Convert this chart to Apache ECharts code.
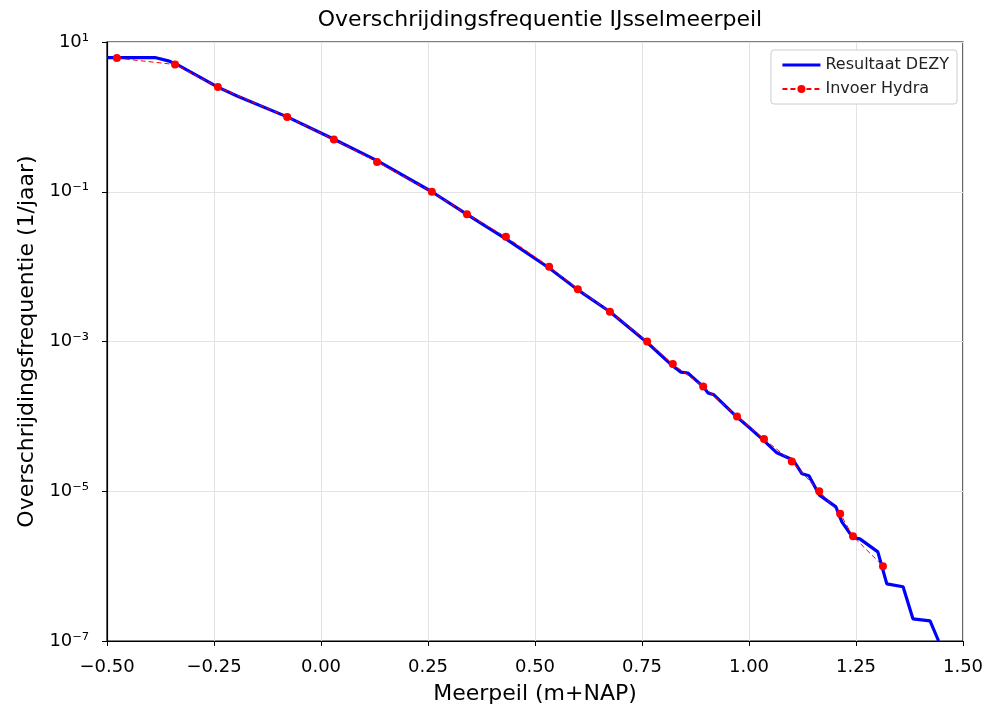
<!DOCTYPE html>
<html>
<head>
<meta charset="utf-8">
<script src="https://cdn.jsdelivr.net/npm/echarts@6/dist/echarts.min.js"></script>
<style>
  html, body { margin: 0; padding: 0; background: #fff; }
  #chart { width: 987px; height: 713px; }
</style>
</head>
<body>
<div id="chart"></div>
<script>
// Resultaat DEZY (doorgetrokken lijn)
var dezyX = [-0.5, -0.388, -0.357, -0.339, -0.241, -0.196, -0.079, 0.028, 0.131, 0.259, 0.341,
             0.432, 0.533, 0.600, 0.675, 0.762, 0.822, 0.841, 0.857, 0.893, 0.904, 0.918, 0.972,
             1.002, 1.033, 1.065, 1.103, 1.124, 1.140, 1.164, 1.203, 1.217, 1.243, 1.259, 1.301,
             1.322, 1.360, 1.383, 1.423, 1.443];
var dezyY = [6.2, 6.2, 5.6, 5.1, 2.5, 1.9, 1.0, 0.51, 0.26, 0.1, 0.05,
             0.0235, 0.0096, 0.0049, 0.0025, 0.00097, 0.00047, 0.00039, 0.00038, 0.00025, 0.000206, 0.000194, 9.8e-5,
             7.0e-5, 4.85e-5, 3.26e-5, 2.62e-5, 1.71e-5, 1.61e-5, 8.95e-6, 6.19e-6, 3.9e-6, 2.39e-6, 2.31e-6, 1.55e-6,
             5.8e-7, 5.3e-7, 1.98e-7, 1.86e-7, 1.0e-7];

// Invoer Hydra (punten)
var hydraX = [-0.477, -0.341, -0.241, -0.079, 0.030, 0.131, 0.259, 0.341, 0.432, 0.533, 0.600,
              0.675, 0.762, 0.822, 0.893, 0.972, 1.035, 1.100, 1.164, 1.213, 1.243, 1.313];
var hydraY = [6.1, 5.0, 2.5, 1.0, 0.5, 0.25, 0.1, 0.05, 0.025, 0.01, 0.005,
              0.0025, 0.001, 0.0005, 0.00025, 0.0001, 5e-5, 2.5e-5, 1e-5, 5e-6, 2.5e-6, 1e-6];

var supLabels = {1: '10¹', '-1': '10⁻¹', '-3': '10⁻³', '-5': '10⁻⁵', '-7': '10⁻⁷'};

function pairs(xs, ys) {
    var out = [];
    for (var i = 0; i < xs.length; i++) out.push([xs[i], ys[i]]);
    return out;
}

var myChart = echarts.init(document.getElementById('chart'));
myChart.setOption({
    animation: false,
    textStyle: { fontFamily: 'DejaVu Sans' },
    title: {
        text: 'Overschrijdingsfrequentie IJsselmeerpeil',
        left: 535, top: 4, textAlign: 'center',
        textStyle: { fontSize: 22, fontWeight: 'normal', color: '#000', fontFamily: 'DejaVu Sans' }
    },
    grid: {
        left: 107, right: 24, top: 42, bottom: 72,
        show: true, borderColor: '#000', borderWidth: 1.2
    },
    legend: {
        orient: 'vertical',
        right: 30, top: 50,
        padding: [7, 8, 7, 10],
        itemGap: 8,
        itemWidth: 38, itemHeight: 10,
        backgroundColor: '#fff',
        borderColor: '#ccc', borderWidth: 1, borderRadius: 3,
        textStyle: { fontSize: 16, color: '#222', fontFamily: 'DejaVu Sans' },
        data: [
            { name: 'Resultaat DEZY', itemStyle: { opacity: 0 }, lineStyle: { width: 3 } },
            'Invoer Hydra'
        ]
    },
    xAxis: {
        type: 'value',
        min: -0.5, max: 1.5, interval: 0.25,
        name: 'Meerpeil (m+NAP)',
        nameLocation: 'middle', nameGap: 42,
        nameTextStyle: { fontSize: 22, color: '#000' },
        axisLine: { lineStyle: { color: '#000', width: 1.2 } },
        axisTick: { inside: false, length: 5, lineStyle: { color: '#000' } },
        axisLabel: {
            fontSize: 18, color: '#000', margin: 17,
            formatter: function (v) { return v.toFixed(2).replace('-', '−'); }
        },
        splitLine: { show: true, lineStyle: { color: '#e3e3e3', width: 1 } }
    },
    yAxis: {
        type: 'log',
        logBase: 10,
        min: 1e-7, max: 10, interval: 2,
        name: 'Overschrijdingsfrequentie (1/jaar)',
        nameLocation: 'middle', nameGap: 69,
        nameTextStyle: { fontSize: 22, color: '#000' },
        axisLine: { onZero: false, lineStyle: { color: '#000', width: 1.2 } },
        axisTick: { inside: false, length: 5, lineStyle: { color: '#000' } },
        axisLabel: {
            fontSize: 18, color: '#000', margin: 18,
            formatter: function (v) {
                var e = Math.round(Math.log10(v));
                return supLabels[e] || ('10^' + e);
            }
        },
        splitLine: { show: true, lineStyle: { color: '#e3e3e3', width: 1 } }
    },
    series: [
        {
            name: 'Resultaat DEZY',
            type: 'line',
            symbol: 'none',
            lineStyle: { color: '#0000ff', width: 3.2 },
            itemStyle: { color: '#0000ff' },
            data: pairs(dezyX, dezyY),
            z: 2
        },
        {
            name: 'Invoer Hydra',
            type: 'line',
            symbol: 'circle',
            symbolSize: 8,
            lineStyle: { color: '#ff0000', width: 1, type: [5, 3] },
            itemStyle: { color: '#ff0000' },
            data: pairs(hydraX, hydraY),
            z: 3
        }
    ]
});
</script>
</body>
</html>
